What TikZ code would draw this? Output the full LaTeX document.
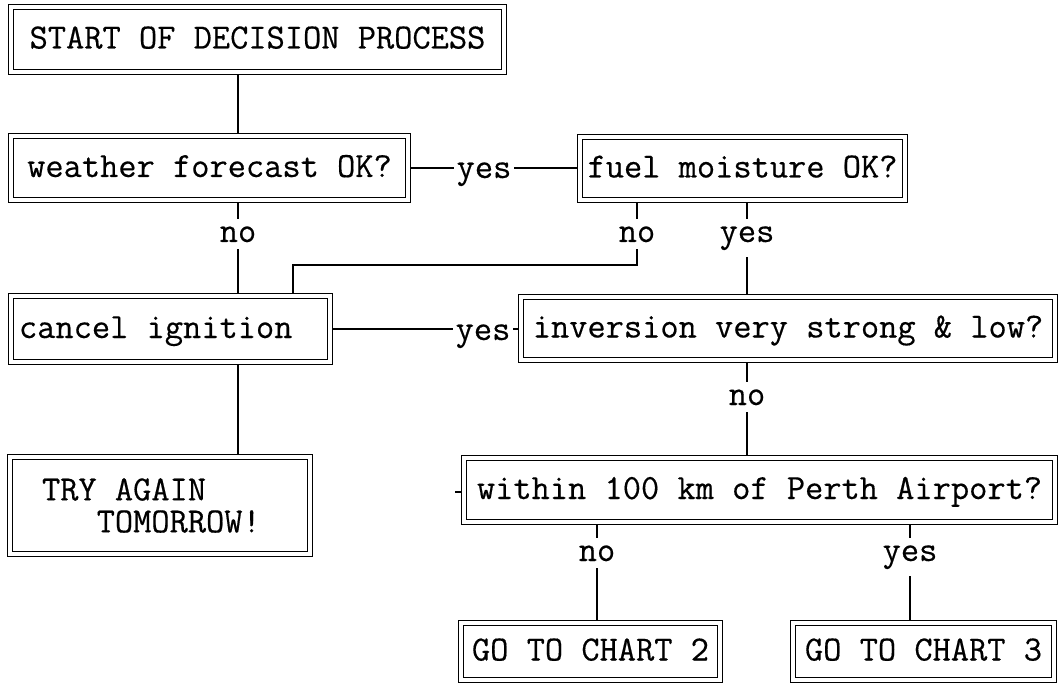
\documentclass[tikz,border=0pt]{standalone}
\usepackage{fontspec}
\newfontfamily\typewriter[FakeBold=0.4]{Latin Modern Mono}
\usetikzlibrary{backgrounds}
\begin{document}
\begin{tikzpicture}[x=1pt,y=-1pt,
  every node/.style={font=\typewriter\fontsize{35.4}{32}\selectfont},
  box/.style={draw, double, double distance=3.4pt, line width=1.4pt,
    fill=white, inner sep=0pt, align=center},
  oneline/.style={text height=23pt, text depth=5pt},
  lbl/.style={inner xsep=2.5pt, inner ysep=7pt, anchor=base},
  wire/.style={line width=1.6pt}]
\useasboundingbox (0,0) rectangle (1059,684);

% decision boxes
\node[box, oneline, minimum width=493pt, minimum height=65pt] (start) at (257.5,39.5) {START OF DECISION PROCESS};
\node[box, oneline, minimum width=397pt, minimum height=64pt] (weather) at (209.5,168) {weather forecast OK?};
\node[box, oneline, minimum width=325pt, minimum height=63pt] (fuel) at (742.5,168.5) {fuel moisture OK?};
\node[box, oneline, minimum width=319pt, minimum height=66pt] (cancel) at (170.5,329) {\makebox[303pt][l]{cancel ignition}};
\node[box, oneline, minimum width=534pt, minimum height=63pt] (inversion) at (788,328.5) {inversion very strong \& low?};
\node[box, align=left, minimum width=300pt, minimum height=97pt] (retry) at (160,505.5)
  {\makebox[236pt][l]{TRY AGAIN}\\\makebox[236pt][l]{\phantom{TRY}TOMORROW!}};
\node[box, oneline, minimum width=591pt, minimum height=64pt] (within) at (759.5,490) {within 100 km of Perth Airport?};
\node[box, oneline, minimum width=259pt, minimum height=57pt] (go2) at (590.5,651.5) {GO TO CHART 2};
\node[box, oneline, minimum width=261pt, minimum height=57pt] (go3) at (923.5,651.5) {GO TO CHART 3};

% answer labels
\node[lbl] (yes1) at (484,178) {yes};
\node[lbl] (no1) at (238,242) {no};
\node[lbl] (no2) at (637,242) {no};
\node[lbl] (yes3) at (747,242) {yes};
\node[lbl] (yes2) at (483,340) {yes};
\node[lbl] (no3) at (747,405) {no};
\node[lbl] (no4) at (597,561) {no};
\node[lbl] (yes4) at (910,561) {yes};

\coordinate (colA) at (238,0);
\coordinate (knee) at (293,265);
\coordinate (stub) at (455,492);

\begin{scope}[on background layer]
  \draw[wire] (start.south -| colA) -- (weather.north -| colA);
  \draw[wire] (weather.east) -- (weather.east -| yes1.west);
  \draw[wire] (yes1.east |- weather.east) -- (fuel.west |- weather.east);
  \draw[wire] (weather.south -| no1) -- (no1.north);
  \draw[wire] (no1.south) -- (cancel.north -| no1);
  \draw[wire] (fuel.south -| no2) -- (no2.north);
  \draw[wire] (no2.south) |- (knee) -- (cancel.north -| knee);
  \draw[wire] (fuel.south -| yes3) -- (yes3.north);
  \draw[wire] (yes3.south) -- (inversion.north -| yes3);
  \draw[wire] (cancel.east) -- (cancel.east -| yes2.west);
  \draw[wire] (yes2.east |- cancel.east) -- (inversion.west |- cancel.east);
  \draw[wire] (cancel.south -| colA) -- (retry.north -| colA);
  \draw[wire] (inversion.south -| no3) -- (no3.north);
  \draw[wire] (no3.south) -- (within.north -| no3);
  \draw[wire] (stub) -- (within.west |- stub);
  \draw[wire] (within.south -| no4) -- (no4.north);
  \draw[wire] (no4.south) -- (go2.north -| no4);
  \draw[wire] (within.south -| yes4) -- (yes4.north);
  \draw[wire] (yes4.south) -- (go3.north -| yes4);
\end{scope}
\end{tikzpicture}
\end{document}
